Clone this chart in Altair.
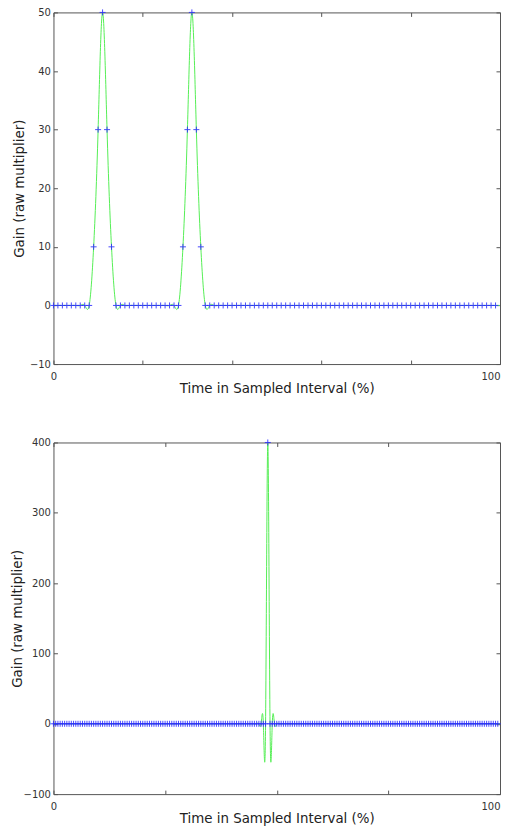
import altair as alt
import pandas as pd

# ---- data ----
# top panel: 100 samples, one per percent
top_time = list(range(100))
top_gain = ([0] * 9 + [10, 30, 50, 30, 10] + [0] * 15 +
            [10, 30, 50, 30, 10] + [0] * 66)
top_line_end = (100, 0)

# bottom panel: 200 samples, one every half percent
bottom_time = [i * 0.5 for i in range(200)]
bottom_gain = [0] * 96 + [400] + [0] * 103
bottom_line_end = (100, 0)

top_y_ticks = [-10, 0, 10, 20, 30, 40, 50]
top_x_ticks = [0, 20, 40, 60, 80, 100]
bottom_y_ticks = [-100, 0, 100, 200, 300, 400]
bottom_x_ticks = [0, 25, 50, 75, 100]

X_TITLE = "Time in Sampled Interval (%)"
Y_TITLE = "Gain (raw multiplier)"

W, H = 447, 352
FONT = "DejaVu Sans"
FRAME = "#555555"
LABEL = "#333333"
TITLE = "#222222"
CROSS = "M-1,0H1M0,-1V1"


def panel(times, gains, line_end, x_ticks, y_ticks, ydom, title_x):
    pts = pd.DataFrame({"t": times, "g": gains})
    line = pd.DataFrame({"t": list(times) + [line_end[0]],
                         "g": list(gains) + [line_end[1]]})
    xs = alt.Scale(domain=[0, 100], nice=False, zero=False)
    ys = alt.Scale(domain=ydom, nice=False, zero=False)
    common = dict(grid=False, domain=False, tickSize=4, offset=-4,
                  tickColor=FRAME, labelFont=FONT, labelFontSize=10,
                  labelColor=LABEL, titleFont=FONT, titleFontSize=13.4,
                  titleColor=TITLE, titleFontWeight="normal")
    x_bottom = alt.Axis(orient="bottom", values=x_ticks, title=X_TITLE,
                        labelExpr="(datum.value == 0 || datum.value == 100) ? datum.label : ''",
                        labelAlign={"expr": "datum.value == 100 ? 'right' : 'center'"},
                        labelPadding=7, labelFlush=False, titleY=21,
                        titleBaseline="top", **common)
    y_left = alt.Axis(orient="left", values=y_ticks, title=Y_TITLE,
                      labelPadding=3, titleX=title_x, titleY=H / 2,
                      titleBaseline="middle", titleAngle=270, **common)
    x_top = alt.Axis(orient="top", values=x_ticks, title=None, labels=False,
                     **common)
    y_right = alt.Axis(orient="right", values=y_ticks, title=None,
                       labels=False, **common)

    curve = alt.Chart(line).mark_line(
        interpolate="natural", color="#55ee55", strokeWidth=1, clip=True
    ).encode(
        x=alt.X("t:Q", scale=xs, axis=x_bottom),
        y=alt.Y("g:Q", scale=ys, axis=y_left),
    )
    marks = alt.Chart(pts).mark_point(
        shape=CROSS, size=36, filled=False, color="#2a2aff",
        strokeWidth=1, opacity=0.85
    ).encode(
        x=alt.X("t:Q", scale=xs, axis=x_top),
        y=alt.Y("g:Q", scale=ys, axis=y_right),
    )
    return alt.layer(curve, marks).resolve_scale(
        x="independent", y="independent"
    ).properties(width=W, height=H)


top = panel(top_time, top_gain, top_line_end, top_x_ticks, top_y_ticks,
            [-10, 50], -38)
bottom = panel(bottom_time, bottom_gain, bottom_line_end, bottom_x_ticks,
               bottom_y_ticks, [-100, 400], -39.5)

chart = alt.vconcat(top, bottom, spacing=41.5).properties(
    padding={"top": -2, "left": 2.5, "right": -3, "bottom": 1.5}
).configure_view(stroke=FRAME, strokeWidth=1)

chart.save("out.html", embed_options={"renderer": "svg", "actions": False})
